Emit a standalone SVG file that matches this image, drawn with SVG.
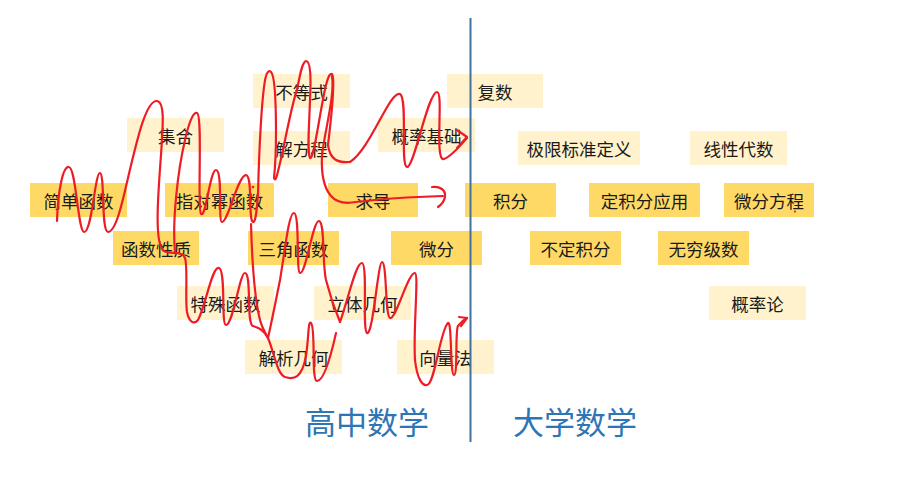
<svg xmlns="http://www.w3.org/2000/svg" width="897" height="485" viewBox="0 0 897 485">
<style>
.d{fill:#FFD966}
.l{fill:#FFF2CC}
.t{font-family:"Noto Sans CJK SC","Liberation Sans",sans-serif;font-size:17.5px;fill:#1a1a1a;text-anchor:middle;dominant-baseline:central}
.h{font-family:"Noto Sans CJK SC","Liberation Sans",sans-serif;font-size:31px;fill:#2E75B6;text-anchor:middle;dominant-baseline:central}
.r{fill:none;stroke:#EE1C25;stroke-width:2.2;stroke-linecap:round;stroke-linejoin:round}
</style>
<rect width="897" height="485" fill="#ffffff"/>
<g id="n-fushu"><rect class="l" x="447" y="74" width="96" height="34"/><text class="t" x="495" y="91">复数</text></g>
<g id="n-budengshi"><rect class="l" x="253" y="74" width="97" height="34"/><text class="t" x="301.5" y="91">不等式</text></g>
<g id="n-jihe"><rect class="l" x="127" y="118" width="97" height="34"/><text class="t" x="175.5" y="135">集合</text></g>
<g id="n-jiefangcheng"><rect class="l" x="253" y="131" width="97" height="34"/><text class="t" x="301.5" y="148">解方程</text></g>
<g id="n-gailvjichu"><rect class="l" x="378" y="118" width="97" height="34"/><text class="t" x="426.5" y="135">概率基础</text></g>
<g id="n-jixian"><rect class="l" x="518" y="131" width="122" height="34"/><text class="t" x="579" y="148">极限标准定义</text></g>
<g id="n-xianxingdaishu"><rect class="l" x="690" y="131" width="97" height="34"/><text class="t" x="738.5" y="148">线性代数</text></g>
<g id="n-jiandanhanshu"><rect class="d" x="30" y="183" width="97" height="34"/><text class="t" x="78.5" y="200">简单函数</text></g>
<g id="n-zhiduimi"><rect class="d" x="165" y="183" width="109" height="34"/><text class="t" x="219.5" y="200">指对幂函数</text></g>
<g id="n-qiudao"><rect class="d" x="328" y="183" width="90" height="34"/><text class="t" x="373" y="200">求导</text></g>
<g id="n-jifen"><rect class="d" x="465" y="183" width="91" height="34"/><text class="t" x="510.5" y="200">积分</text></g>
<g id="n-dingjifenyingyong"><rect class="d" x="589" y="183" width="111" height="34"/><text class="t" x="644.5" y="200">定积分应用</text></g>
<g id="n-weifenfangcheng"><rect class="d" x="724" y="183" width="90" height="34"/><text class="t" x="769" y="200">微分方程</text></g>
<g id="n-hanshuxingzhi"><rect class="d" x="113" y="231" width="86" height="34"/><text class="t" x="156" y="248">函数性质</text></g>
<g id="n-sanjiaohanshu"><rect class="d" x="248" y="231" width="91" height="34"/><text class="t" x="293.5" y="248">三角函数</text></g>
<g id="n-weifen"><rect class="d" x="391" y="231" width="91" height="34"/><text class="t" x="436.5" y="248">微分</text></g>
<g id="n-budingjifen"><rect class="d" x="530" y="231" width="91" height="34"/><text class="t" x="575.5" y="248">不定积分</text></g>
<g id="n-wuqiongjishu"><rect class="d" x="658" y="231" width="91" height="34"/><text class="t" x="703.5" y="248">无穷级数</text></g>
<g id="n-teshuhanshu"><rect class="l" x="177" y="286" width="97" height="34"/><text class="t" x="225.5" y="303">特殊函数</text></g>
<g id="n-litijihe"><rect class="l" x="314" y="286" width="97" height="34"/><text class="t" x="362.5" y="303">立体几何</text></g>
<g id="n-gailvlun"><rect class="l" x="709" y="286" width="97" height="34"/><text class="t" x="757.5" y="303">概率论</text></g>
<g id="n-jiexijihe"><rect class="l" x="245" y="340" width="97" height="34"/><text class="t" x="293.5" y="357">解析几何</text></g>
<g id="n-xiangliangfa"><rect class="l" x="397" y="340" width="97" height="34"/><text class="t" x="445.5" y="357">向量法</text></g>
<g id="labels">
<text class="h" x="367" y="420">高中数学</text>
<text class="h" x="575" y="420">大学数学</text>
</g>
<g id="connectors">
<line x1="470.5" y1="18" x2="470.5" y2="442" stroke="#41719C" stroke-width="2"/>
<path class="r" d="M57,221 C58,190 63,166 69,167 C76,168 78,231 84,232 C92,233 95,172 100,173 C105,174 101,232 108,232 C116,232 123,200 128,178 C137,140 146,100 157,101 C165,102 163,125 161,155 C158,195 154,245 164,251 C171,255 182,250 185,258 C188,266 185,300 187,312 C189,322 194,325 198,320 C206,305 212,266 219,268 C226,270 221,325 226,325 C233,325 240,272 245,273 C252,274 246,324 253,326 C259,328 264,330 268,338 C274,352 277,374 285,377 C294,380 302,378 306,356 C309,336 308,320 311,323 C316,328 311,381 317,381 C323,381 330,360 336,333"/>
<path class="r" d="M251,224 C252,260 255,300 260,320 C262,328 265,332 268,338"/>
<path class="r" d="M268,338 C272,320 276,300 280,280 C285,250 289,212 294,213 C300,214 296,272 300,273 C306,274 313,220 319,221 C325,222 322,262 326,280 C330,296 335,310 340,322 C348,300 356,262 362,263 C368,264 362,330 367,333 C373,336 378,262 382,262 C387,262 385,316 390,318 C396,320 408,272 415,273 C419,274 413,330 415,360 C417,378 422,386 427,385 C435,384 440,330 448,323 C452,320 450,375 454,375 C458,375 455,330 458,326 C461,322 463,320 467,318"/>
<path class="r" d="M459,317 L467,318 L461,326"/>
<path class="r" d="M175,252 C172,220 178,170 185,140 C190,118 194,112 197,113 C203,115 197,210 201,214 C206,218 210,170 216,170 C223,170 218,222 222,222 C228,222 238,175 246,175 C253,176 248,220 253,222 C256,223 257,205 258,195 C259,150 262,90 266,76 C267,72 269,70 271,72 C277,78 277,150 274,178 C276,184 278,170 282,155 C287,130 293,100 297,90 C300,75 302,62 306,61 C311,61 311,80 310,100 C309,130 307,152 310,158 C314,160 320,110 326,85 C328,77 330,73 332,74 C336,77 331,120 328,145 C330,160 338,163 350,162 C370,150 390,90 400,94 C408,98 400,166 407,167 C414,168 428,92 437,92 C444,92 434,162 444,159 C452,156 460,146 467,138"/>
<path class="r" d="M457,130 L467,137 L457,148"/>
<path class="r" d="M332,76 C335,95 325,130 322,155 C321,175 324,188 331,196 C337,203 345,204 356,202 C380,199 410,197 443,196"/>
<path class="r" d="M432,187 C440,186 446,190 445,197 C444,202 441,205 438,207"/>
<circle cx="253" cy="187" r="1.3" fill="#EE1C25"/>
<circle cx="795" cy="211.5" r="1.1" fill="#EE1C25"/>
</g>
</svg>
